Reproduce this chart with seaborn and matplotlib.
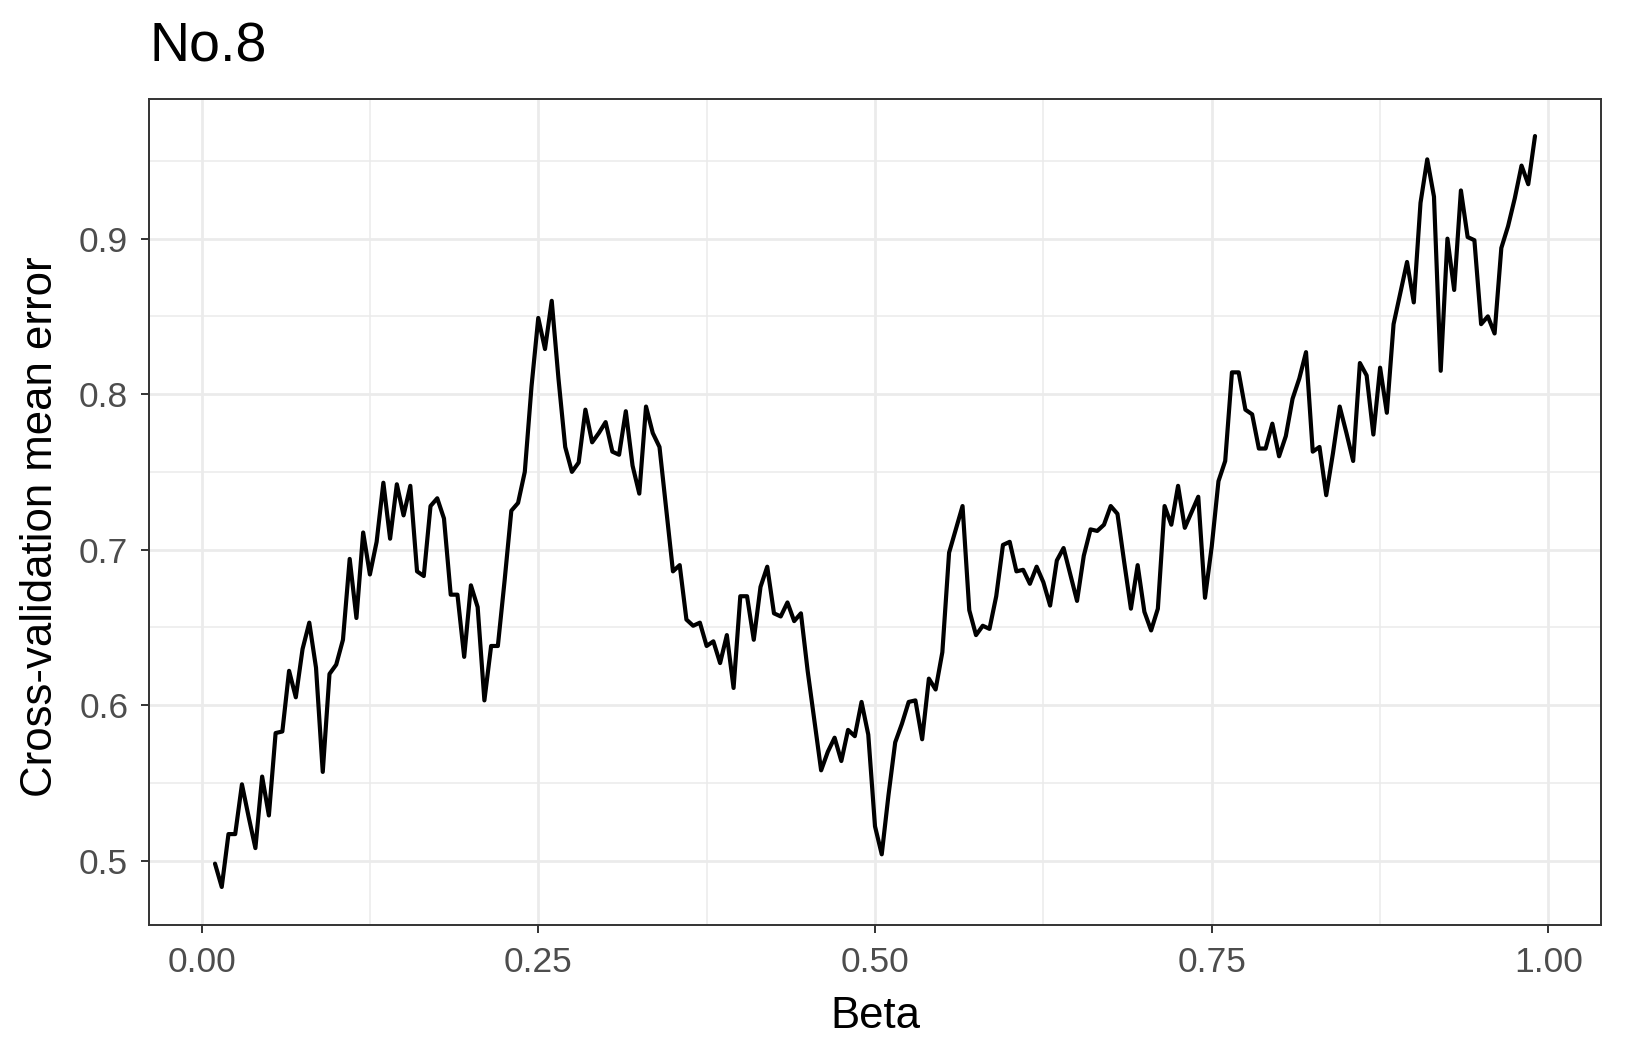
import numpy as np
import pandas as pd
import seaborn as sns
import matplotlib.pyplot as plt
from matplotlib.ticker import MultipleLocator, FormatStrFormatter

# beta grid: 0.01 .. 0.99 by 0.005
beta = np.round(0.01 + 0.005 * np.arange(197), 3)

# cross-validation mean error
cv_error = [
    0.498, 0.483, 0.517, 0.517, 0.549, 0.528, 0.508, 0.554, 0.529, 0.582,
    0.583, 0.622, 0.605, 0.636, 0.653, 0.624, 0.557, 0.620, 0.626, 0.642,
    0.694, 0.656, 0.711, 0.684, 0.705, 0.743, 0.707, 0.742, 0.722, 0.741,
    0.686, 0.683, 0.728, 0.733, 0.720, 0.671, 0.671, 0.631, 0.677, 0.663,
    0.603, 0.638, 0.638, 0.680, 0.725, 0.730, 0.750, 0.805, 0.849, 0.829,
    0.860, 0.810, 0.766, 0.750, 0.756, 0.790, 0.769, 0.775, 0.782, 0.763,
    0.761, 0.789, 0.754, 0.736, 0.792, 0.775, 0.766, 0.726, 0.686, 0.690,
    0.655, 0.651, 0.653, 0.638, 0.641, 0.627, 0.645, 0.611, 0.670, 0.670,
    0.642, 0.676, 0.689, 0.659, 0.657, 0.666, 0.654, 0.659, 0.622, 0.590,
    0.558, 0.570, 0.579, 0.564, 0.584, 0.580, 0.602, 0.581, 0.522, 0.504,
    0.542, 0.576, 0.588, 0.602, 0.603, 0.578, 0.617, 0.610, 0.634, 0.698,
    0.713, 0.728, 0.661, 0.645, 0.651, 0.649, 0.670, 0.703, 0.705, 0.686,
    0.687, 0.678, 0.689, 0.679, 0.664, 0.693, 0.701, 0.684, 0.667, 0.696,
    0.713, 0.712, 0.716, 0.728, 0.723, 0.692, 0.662, 0.690, 0.660, 0.648,
    0.662, 0.728, 0.716, 0.741, 0.714, 0.724, 0.734, 0.669, 0.702, 0.744,
    0.757, 0.814, 0.814, 0.790, 0.787, 0.765, 0.765, 0.781, 0.760, 0.773,
    0.797, 0.810, 0.827, 0.763, 0.766, 0.735, 0.762, 0.792, 0.775, 0.757,
    0.820, 0.812, 0.774, 0.817, 0.788, 0.845, 0.865, 0.885, 0.859, 0.923,
    0.951, 0.927, 0.815, 0.900, 0.867, 0.931, 0.901, 0.899, 0.845, 0.850,
    0.839, 0.894, 0.908, 0.926, 0.947, 0.935, 0.966,
]

df = pd.DataFrame({'beta': beta, 'error': cv_error})

sns.set_theme(style='white')
plt.rcParams['font.family'] = ['Liberation Sans', 'DejaVu Sans']

W, H = 1625, 1059
fig = plt.figure(figsize=(W / 100, H / 100), dpi=100)
# panel box in pixels: left 149, right 1601, top 98.5, bottom 924.5
ax = fig.add_axes([149 / W, 1 - 924.5 / H, (1601 - 149) / W, (924.5 - 98.5) / H])

sns.lineplot(data=df, x='beta', y='error', color='black', linewidth=3.0, ax=ax)

# ggplot-like 5% expansion of the data range
xr = df['beta'].max() - df['beta'].min()
yr = df['error'].max() - df['error'].min()
ax.set_xlim(df['beta'].min() - 0.05 * xr, df['beta'].max() + 0.05 * xr)
ax.set_ylim(df['error'].min() - 0.05 * yr, df['error'].max() + 0.05 * yr)

ax.xaxis.set_major_locator(MultipleLocator(0.25))
ax.xaxis.set_minor_locator(MultipleLocator(0.125))
ax.yaxis.set_major_locator(MultipleLocator(0.1))
ax.yaxis.set_minor_locator(MultipleLocator(0.05))
ax.xaxis.set_major_formatter(FormatStrFormatter('%.2f'))
ax.yaxis.set_major_formatter(FormatStrFormatter('%.1f'))

ax.grid(which='major', color='#EBEBEB', linewidth=1.95)
ax.grid(which='minor', color='#EBEBEB', linewidth=1.15)
ax.set_axisbelow(True)

for s in ax.spines.values():
    s.set_color('#333333')
    s.set_linewidth(1.4)

ax.tick_params(which='major', length=6, width=1.4, color='#333333',
               labelsize=25.5, labelcolor='#4D4D4D', bottom=True, left=True)
ax.tick_params(axis='x', which='major', pad=9.5)
ax.tick_params(axis='y', which='major', pad=9)
ax.tick_params(which='minor', length=0)

ax.set_xlabel('Beta', fontsize=31.5, color='black', labelpad=12.5)
ax.set_ylabel('Cross-validation mean error', fontsize=31.5, color='black')
ax.yaxis.set_label_coords(-88 / 1452, (924.5 - 526.5) / 826)

fig.text(149 / W, 1 - 47.5 / H, 'No.8', fontsize=40, color='black', ha='left', va='center')

fig.savefig('out.png', dpi=100)
